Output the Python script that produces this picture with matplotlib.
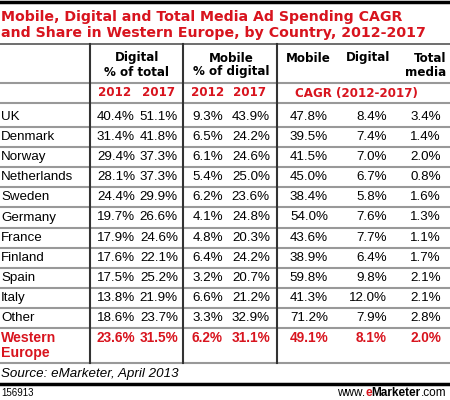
import numpy as np
import matplotlib.pyplot as plt

# data
countries = ["UK", "Denmark", "Norway", "Netherlands", "Sweden", "Germany",
             "France", "Finland", "Spain", "Italy", "Other"]
dig_2012 = [40.4, 31.4, 29.4, 28.1, 24.4, 19.7, 17.9, 17.6, 17.5, 13.8, 18.6]
dig_2017 = [51.1, 41.8, 37.3, 37.3, 29.9, 26.6, 24.6, 22.1, 25.2, 21.9, 23.7]
mob_2012 = [9.3, 6.5, 6.1, 5.4, 6.2, 4.1, 4.8, 6.4, 3.2, 6.6, 3.3]
mob_2017 = [43.9, 24.2, 24.6, 25.0, 23.6, 24.8, 20.3, 24.2, 20.7, 21.2, 32.9]
cagr_mobile = [47.8, 39.5, 41.5, 45.0, 38.4, 54.0, 43.6, 38.9, 59.8, 41.3, 71.2]
cagr_digital = [8.4, 7.4, 7.0, 6.7, 5.8, 7.6, 7.7, 6.4, 9.8, 12.0, 7.9]
cagr_total = [3.4, 1.4, 2.0, 0.8, 1.6, 1.3, 1.1, 1.7, 2.1, 2.1, 2.8]
total_row = [23.6, 31.5, 6.2, 31.1, 49.1, 8.1, 2.0]

RED = "#d8141e"
W, H = 450, 400

fig = plt.figure(figsize=(W / 100, H / 100), dpi=100)
ax = fig.add_axes([0, 0, 1, 1])
ax.set_xlim(0, W)
ax.set_ylim(H, 0)
ax.axis("off")

hd = dict(family="DejaVu Sans", fontweight="bold")
bd = dict(family="Liberation Sans")

# title
ax.plot([0, W], [1.5, 1.5], color="black", lw=2.5)
ax.text(1, 17, "Mobile, Digital and Total Media Ad Spending CAGR", color=RED,
        fontsize=10.2, va="center", **hd)
ax.text(1, 33, "and Share in Western Europe, by Country, 2012-2017", color=RED,
        fontsize=10.2, va="center", **hd)

# grid lines
top, hdr_line, yr_line = 44, 83, 103
pitch = 20.1
row_y = yr_line + 14 + pitch * np.arange(len(countries))
bottom = row_y[-1] + 10 + 35
ax.plot([0, W], [top, top], color="#555555", lw=1.2)
ax.plot([0, W], [hdr_line, hdr_line], color="#999999", lw=1.5)
ax.plot([0, W], [yr_line, yr_line], color="#999999", lw=1.5)
for y in row_y:
    ax.plot([0, W], [y + 10, y + 10], color="#999999", lw=1.5)
ax.plot([0, W], [bottom, bottom], color="#999999", lw=1.5)
for x in [90, 183, 277]:
    ax.plot([x, x], [top, bottom], color="#333333", lw=1.5)

# headers
hs = 8.6
ax.text(137, 58, "Digital", ha="center", va="center", fontsize=hs, **hd)
ax.text(137, 72, "% of total", ha="center", va="center", fontsize=hs, **hd)
ax.text(231, 58, "Mobile", ha="center", va="center", fontsize=hs, **hd)
ax.text(231, 72, "% of digital", ha="center", va="center", fontsize=hs, **hd)
ax.text(308, 58, "Mobile", ha="center", va="center", fontsize=hs, **hd)
ax.text(368, 58, "Digital", ha="center", va="center", fontsize=hs, **hd)
ax.text(446, 58, "Total", ha="right", va="center", fontsize=hs, **hd)
ax.text(446, 72, "media", ha="right", va="center", fontsize=hs, **hd)

yr = (hdr_line + yr_line) / 2
for x, lab in [(115, "2012"), (159, "2017"), (208, "2012"), (250, "2017")]:
    ax.text(x, yr, lab, ha="center", va="center", color=RED, fontsize=hs, **hd)
ax.text(356, yr, "CAGR (2012-2017)", ha="center", va="center", color=RED,
        fontsize=hs, **hd)

# body
cols = [(dig_2012, 135), (dig_2017, 178), (mob_2012, 223), (mob_2017, 270),
        (cagr_mobile, 328), (cagr_digital, 387), (cagr_total, 441)]
bs = 9.6
for i, name in enumerate(countries):
    y = row_y[i]
    ax.text(1, y, name, va="center", fontsize=bs, **bd)
    for vals, x in cols:
        ax.text(x, y, f"{vals[i]:.1f}%", ha="right", va="center", fontsize=bs, **bd)

ty = row_y[-1] + pitch
ax.text(1, ty, "Western", va="center", color=RED, fontsize=10.2,
        family="Liberation Sans", fontweight="bold")
ax.text(1, ty + 15, "Europe", va="center", color=RED, fontsize=10.2,
        family="Liberation Sans", fontweight="bold")
for v, (_, x) in zip(total_row, cols):
    ax.text(x, ty, f"{v:.1f}%", ha="right", va="center", color=RED, fontsize=9.8,
            family="Liberation Sans", fontweight="bold")

# footer
ax.text(1, bottom + 11, "Source: eMarketer, April 2013", va="center",
        fontsize=9.6, style="italic", **bd)
ax.plot([0, W], [384, 384], color="black", lw=2.5)
ax.text(1, 393, "156913", va="center", fontsize=7, **bd)

fig.canvas.draw()
r = fig.canvas.get_renderer()
inv = ax.transData.inverted()
x0 = 337
for part, col, wt in [("www.", "black", "normal"), ("e", RED, "bold"),
                      ("Marketer", "black", "bold"), (".com", "black", "normal")]:
    t = ax.text(x0, 393, part, va="center", fontsize=8.5, color=col,
                family="Liberation Sans", fontweight=wt)
    x0 = t.get_window_extent(r).transformed(inv).x1

fig.savefig("out.png", dpi=100)
